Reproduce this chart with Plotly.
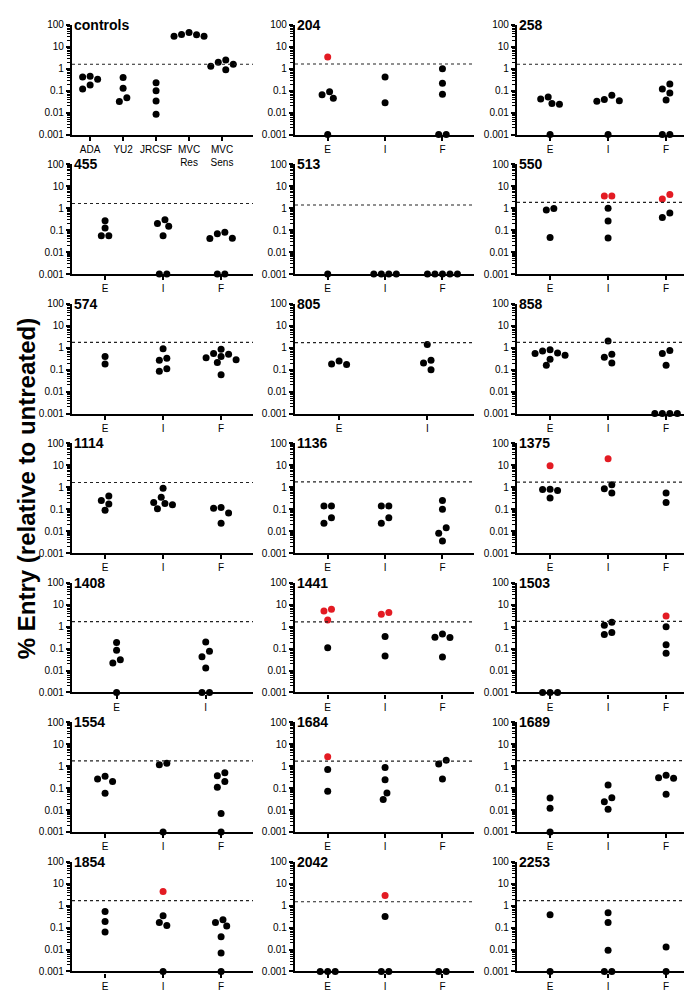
import numpy as np
import plotly.graph_objects as go

W, H = 692, 992

# -----------------------------------------------------------------------------
# Data (% entry relative to untreated), one list per x category
# -----------------------------------------------------------------------------
CONTROL_CATS = ["ADA", "YU2", "JRCSF", "MVC<br>Res", "MVC<br>Sens"]
EIF = ["E", "I", "F"]
EI = ["E", "I"]

PANEL_NAMES = ["controls", "204", "258", "455", "513", "550", "574", "805", "858",
               "1114", "1136", "1375", "1408", "1441", "1503", "1554", "1684", "1689",
               "1854", "2042", "2253"]
THRESHOLDS = [1.6, 1.65, 1.6, 1.65, 1.4, 1.85, 1.75, 1.7, 1.75, 1.65, 1.75,
              1.7, 1.7, 1.65, 1.75, 1.75, 1.7, 1.8, 1.7, 1.5, 1.7]

CONTROLS = [[0.42, 0.12, 0.33, 0.18, 0.45], [0.4, 0.13, 0.032, 0.047],
            [0.23, 0.1, 0.034, 0.0085], [45, 35, 30, 30, 36], [1.6, 2.5, 0.9, 2.0, 1.3]]
CONTROLS_RED = [[], [], [], [], []]

P204 = [[0.065, 0.09, 0.045, 0.001], [0.42, 0.028], [1.0, 0.22, 0.068, 0.001, 0.001]]
P204_RED = [[3.4], [], []]
P258 = [[0.026, 0.052, 0.024, 0.042, 0.001], [0.062, 0.035, 0.033, 0.04, 0.001],
        [0.12, 0.078, 0.2, 0.038, 0.001, 0.001]]
P258_RED = [[], [], []]
P455 = [[0.27, 0.125, 0.055, 0.055], [0.15, 0.3, 0.2, 0.055, 0.001, 0.001],
        [0.08, 0.043, 0.042, 0.068, 0.001, 0.001]]
P455_RED = [[], [], []]
P513 = [[0.001], [0.001] * 4, [0.001] * 5]
P513_RED = [[], [], []]
P550 = [[0.97, 0.83, 0.046], [1.0, 0.26, 0.044], [0.38, 0.6]]
P550_RED = [[], [3.6, 3.6], [4.2, 2.6]]
P574 = [[0.4, 0.18], [0.9, 0.33, 0.27, 0.11, 0.085],
        [0.4, 0.85, 0.28, 0.5, 0.21, 0.55, 0.35, 0.058]]
P574_RED = [[], [], []]
P805 = [[0.25, 0.17, 0.18], [1.4, 0.27, 0.2, 0.1]]
P805_RED = [[], []]
P858 = [[0.7, 0.55, 0.16, 0.45, 0.3, 0.57, 0.8], [2.0, 0.5, 0.2, 0.37],
        [0.55, 0.75, 0.16, 0.001, 0.001, 0.001, 0.001]]
P858_RED = [[], [], []]
P1114 = [[0.4, 0.25, 0.17, 0.088], [0.9, 0.35, 0.18, 0.105, 0.16, 0.2],
         [0.11, 0.066, 0.12, 0.023]]
P1114_RED = [[], [], []]
P1136 = [[0.14, 0.14, 0.04, 0.023], [0.14, 0.14, 0.04, 0.023],
         [0.25, 0.1, 0.014, 0.008, 0.0035]]
P1136_RED = [[], [], []]
P1375 = [[0.78, 0.7, 0.8, 0.32], [1.3, 0.55, 0.85], [0.55, 0.2]]
P1375_RED = [[9.5], [20], []]
P1408 = [[0.19, 0.085, 0.031, 0.022, 0.001], [0.2, 0.075, 0.043, 0.013, 0.001, 0.001]]
P1408_RED = [[], []]
P1441 = [[0.11], [0.36, 0.046], [0.33, 0.32, 0.46, 0.042]]
P1441_RED = [[5.2, 6.3, 2.0], [3.7, 4.4], []]
P1503 = [[0.001, 0.001, 0.001], [1.6, 1.15, 0.44, 0.54], [1.0, 0.15, 0.062]]
P1503_RED = [[], [], [3.1]]
P1554 = [[0.26, 0.2, 0.35, 0.058], [1.35, 1.15, 0.001], [0.5, 0.11, 0.2, 0.37, 0.007, 0.001]]
P1554_RED = [[], [], []]
P1684 = [[0.7, 0.072], [0.88, 0.24, 0.06, 0.03], [1.85, 1.25, 0.26]]
P1684_RED = [[2.7], [], []]
P1689 = [[0.035, 0.012, 0.001], [0.14, 0.036, 0.024, 0.011], [0.3, 0.28, 0.39, 0.052]]
P1689_RED = [[], [], []]
P1854 = [[0.54, 0.19, 0.063], [0.35, 0.17, 0.125, 0.001],
         [0.17, 0.12, 0.23, 0.038, 0.007, 0.001]]
P1854_RED = [[], [4.4], []]
P2042 = [[0.001, 0.001, 0.001], [0.32, 0.001, 0.001], [0.001, 0.001]]
P2042_RED = [[], [2.9], []]
P2253 = [[0.39, 0.001], [0.47, 0.17, 0.0093, 0.001, 0.001], [0.013, 0.001]]
P2253_RED = [[], [], []]

PANELS = [
    (CONTROL_CATS, CONTROLS, CONTROLS_RED), (EIF, P204, P204_RED), (EIF, P258, P258_RED),
    (EIF, P455, P455_RED), (EIF, P513, P513_RED), (EIF, P550, P550_RED),
    (EIF, P574, P574_RED), (EI, P805, P805_RED), (EIF, P858, P858_RED),
    (EIF, P1114, P1114_RED), (EIF, P1136, P1136_RED), (EIF, P1375, P1375_RED),
    (EI, P1408, P1408_RED), (EIF, P1441, P1441_RED), (EIF, P1503, P1503_RED),
    (EIF, P1554, P1554_RED), (EIF, P1684, P1684_RED), (EIF, P1689, P1689_RED),
    (EIF, P1854, P1854_RED), (EIF, P2042, P2042_RED), (EIF, P2253, P2253_RED),
]

# -----------------------------------------------------------------------------
# Layout geometry (pixels)
# -----------------------------------------------------------------------------
COL_X0 = [64, 287, 509]
COL_X1 = [245, 466, 690]
ROW_TOP0, ROW_PITCH, PANEL_H = 11, 141.2, 111
DOT = 7          # marker diameter
SEP = 7.5        # horizontal spacing of side-by-side points
RED = "#e31b23"
FONT = "Liberation Sans, Arial, sans-serif"
TICK_FONT = dict(family=FONT, size=10, color="black")


def x_range(ncat):
    if ncat == 5:
        return [-0.55, 4.94]
    if ncat == 2:
        return [-0.5, 1.53]
    return [-0.57, 2.55]


def swarm(vals, px_unit, px_dec):
    """GraphPad-like scatter: spread points horizontally when they would overlap."""
    n = len(vals)
    ys = [np.log10(v) * px_dec for v in vals]
    xs = [None] * n
    order = sorted(range(n), key=lambda k: -vals[k])
    cand = [0] + [s * k for k in range(1, 30) for s in (-1, 1)]
    for k in order:
        for c in cand:
            x = c * SEP / 2
            ok = all((x - xs[j]) ** 2 + (ys[k] - ys[j]) ** 2 >= (0.95 * SEP) ** 2
                     for j in range(n) if xs[j] is not None)
            if ok:
                xs[k] = x
                break
    # centre each vertically connected group
    parent = list(range(n))

    def find(a):
        while parent[a] != a:
            a = parent[a]
        return a
    for a in range(n):
        for b in range(a + 1, n):
            if abs(ys[a] - ys[b]) < SEP:
                parent[find(a)] = find(b)
    groups = {}
    for a in range(n):
        groups.setdefault(find(a), []).append(a)
    for members in groups.values():
        shift = (min(xs[m] for m in members) + max(xs[m] for m in members)) / 2
        for m in members:
            xs[m] -= shift
    return [x / px_unit for x in xs]


fig = go.Figure()
minor_vals = [m * 10.0 ** e for e in range(-3, 2) for m in range(2, 10)]

for i, (cats, black, red) in enumerate(PANELS):
    r, c = divmod(i, 3)
    n = i + 1
    sfx = "" if n == 1 else str(n)
    top = ROW_TOP0 + r * ROW_PITCH
    bot = top + PANEL_H
    xr = x_range(len(cats))
    px_unit = (COL_X1[c] - COL_X0[c]) / (xr[1] - xr[0])
    px_dec = PANEL_H / 5

    xs, ys, cols = [], [], []
    for k in range(len(cats)):
        vals = list(black[k]) + list(red[k])
        colors = ["black"] * len(black[k]) + [RED] * len(red[k])
        offs = swarm(vals, px_unit, px_dec)
        xs += [k + o for o in offs]
        ys += vals
        cols += colors

    fig.add_trace(go.Scatter(
        x=xs, y=ys, mode="markers", xaxis="x" + sfx, yaxis="y" + sfx,
        marker=dict(size=DOT, color=cols, line=dict(width=0)),
        cliponaxis=False, showlegend=False, hoverinfo="y",
    ))

    fig.update_layout({
        "xaxis" + sfx: dict(
            domain=[COL_X0[c] / W, COL_X1[c] / W], anchor="y" + sfx,
            range=xr, tickmode="array", tickvals=list(range(len(cats))), ticktext=cats,
            tickangle=0, ticks="outside", ticklen=4, tickwidth=1.5, tickcolor="black",
            showline=True, linewidth=2.2, linecolor="black",
            showgrid=False, zeroline=False, tickfont=TICK_FONT, fixedrange=True,
        ),
        "yaxis" + sfx: dict(
            domain=[1 - bot / H, 1 - top / H], anchor="x" + sfx,
            type="log", range=[-3, 2],
            tickmode="array", tickvals=[0.001, 0.01, 0.1, 1, 10, 100],
            ticktext=["0.001", "0.01", "0.1", "1", "10", "100"],
            ticks="outside", ticklen=4, tickwidth=1.5, tickcolor="black",
            minor=dict(tickmode="array", tickvals=minor_vals, ticks="outside",
                       ticklen=2.5, tickwidth=1, tickcolor="black", showgrid=False),
            showline=True, linewidth=2.2, linecolor="black",
            showgrid=False, zeroline=False, tickfont=TICK_FONT, fixedrange=True,
        ),
    })

    fig.add_shape(type="line", xref="x%s domain" % sfx, yref="y" + sfx,
                  x0=0, x1=1, y0=THRESHOLDS[i], y1=THRESHOLDS[i],
                  line=dict(color="#222222", width=1.1, dash="dot"))

    fig.add_annotation(xref="x%s domain" % sfx, yref="y%s domain" % sfx,
                       x=0.0, y=1.0, xanchor="left", yanchor="middle",
                       text="<b>%s</b>" % PANEL_NAMES[i], showarrow=False,
                       font=dict(family=FONT, size=14, color="black"))

fig.add_annotation(xref="paper", yref="paper", x=18 / W, y=1 - 481 / H,
                   text="<b>% Entry (relative to untreated)</b>", textangle=-90,
                   showarrow=False, xanchor="center", yanchor="middle",
                   font=dict(family=FONT, size=24, color="black"))

fig.update_layout(
    width=W, height=H, margin=dict(l=0, r=0, t=0, b=0),
    plot_bgcolor="white", paper_bgcolor="white",
)

fig.write_html("out.html")
